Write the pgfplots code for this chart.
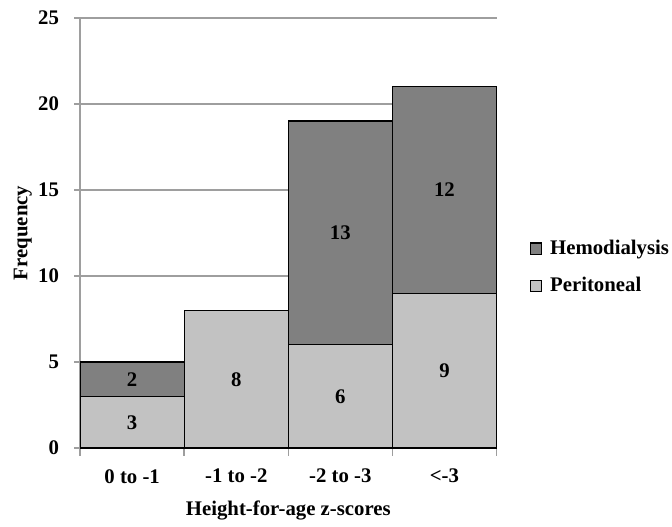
\documentclass[border=0pt]{standalone}
\usepackage{pgfplots}
\pgfplotsset{compat=1.18}
\usepackage{fontspec}
\setmainfont{Liberation Serif}
\definecolor{hemo}{gray}{0.5}
\definecolor{peri}{gray}{0.76}
\definecolor{gridc}{gray}{0.62}
\begin{document}
\fontsize{10.5}{12.6}\selectfont\bfseries
\begin{tikzpicture}
\begin{axis}[
  scale only axis,
  width=210.5pt, height=217.5pt,
  ybar stacked, bar width=1,
  xmin=-0.5, xmax=3.5, ymin=0, ymax=25,
  xtick={0,1,2,3},
  xticklabels={0 to -1,-1 to -2,-2 to -3,<-3},
  major x tick style={draw=none},
  minor xtick={-0.5,0.5,1.5,2.5,3.5},
  minor tick length=4pt,
  minor x tick style={gridc, line width=0.8pt},
  ytick={0,5,...,25},
  major tick length=3pt,
  tick align=outside,
  y tick style={gridc, line width=0.8pt},
  ymajorgrids, grid style={gridc, line width=0.8pt},
  axis x line*=bottom, axis y line*=left,
  axis line style={gridc, line width=0.8pt, -},
  /pgf/number format/assume math mode=true,
  ticklabel style={font=\fontsize{10.5}{12.6}\selectfont\bfseries},
  yticklabel style={xshift=-4pt},
  xticklabel style={yshift=-4pt},
  xlabel={Height-for-age z-scores},
  ylabel={Frequency},
  label style={font=\fontsize{10.5}{12.6}\selectfont\bfseries},
  xlabel style={yshift=-1.5pt},
  ylabel style={yshift=-4pt},
  legend style={at={(1.08,0.42)}, anchor=west, draw=none, fill=none,
    inner sep=0pt, outer sep=0pt,
    font=\fontsize{10.5}{12.6}\selectfont\bfseries, row sep=8pt,
    nodes={inner xsep=1.5pt, inner ysep=1pt},
    legend cell align=left},
  legend image code/.code={\draw[#1, draw=black, line width=0.6pt] (0cm,-0.1cm) rectangle (0.2cm,0.1cm);},
  legend style={/tikz/every odd column/.style={inner xsep=0pt},
                /tikz/every even column/.style={column sep=0pt}},
  reverse legend,
  clip=false,
  after end axis/.code={
    \node[font=\fontsize{10.5}{12.6}\selectfont\bfseries] at (axis cs:0,1.5) {3};
    \node[font=\fontsize{10.5}{12.6}\selectfont\bfseries] at (axis cs:0,4) {2};
    \node[font=\fontsize{10.5}{12.6}\selectfont\bfseries] at (axis cs:1,4) {8};
    \node[font=\fontsize{10.5}{12.6}\selectfont\bfseries] at (axis cs:2,3) {6};
    \node[font=\fontsize{10.5}{12.6}\selectfont\bfseries] at (axis cs:2,12.5) {13};
    \node[font=\fontsize{10.5}{12.6}\selectfont\bfseries] at (axis cs:3,4.5) {9};
    \node[font=\fontsize{10.5}{12.6}\selectfont\bfseries] at (axis cs:3,15) {12};
    \path (rel axis cs:0,1) ++(-40.5pt,9pt);
    \path (rel axis cs:1,0) ++(85pt,-36pt);
  },
]
\addplot[fill=peri, draw=black, line width=0.6pt] coordinates {(0,3) (1,8) (2,6) (3,9)};
\addplot[fill=hemo, draw=black, line width=0.6pt] coordinates {(0,2) (1,0) (2,13) (3,12)};
\legend{\hspace{2.5pt}Peritoneal,\hspace{2.5pt}Hemodialysis}
\end{axis}
\end{tikzpicture}
\end{document}
